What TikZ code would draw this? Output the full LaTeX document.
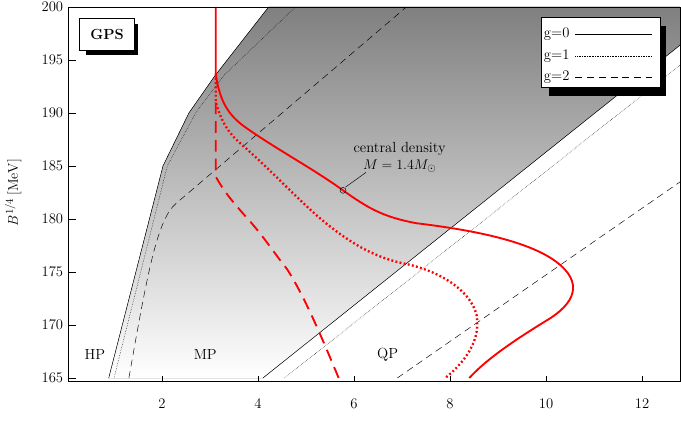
\documentclass[tikz,border=0pt]{standalone}
\usetikzlibrary{positioning,calc}
\definecolor{shade}{gray}{0.85}
\tikzset{
  redline/.style={red,line width=1.6pt},
  thinline/.style={black,line width=0.4pt},
  gsolid/.style={solid},
  gdot/.style={densely dotted},
  gdash/.style={dash pattern=on 6pt off 4pt},
  boxed/.style={draw=black,fill=white,thin,inner sep=4pt},
  shadow/.style={fill=black}
}
\begin{document}
\begin{tikzpicture}[x=1.44cm,y=0.318cm,font=\fontsize{12.5}{15}\selectfont]
\useasboundingbox (-1.375,159.8) rectangle (12.81,200.66);
%shaded region
\fill[shade] (0.89,165) -- (2.02,185) -- (2.56,190) -- (3.1,193.5) -- (4.22,200)
  -- (12.79,200) -- (12.79,196.4) -- (4.1,165) -- cycle;
%left boundaries
\draw[thinline] (0.89,165) -- (2.02,185) -- (2.56,190) -- (3.1,193.5) -- (4.22,200);
\draw[thinline,gdot] (1.0,165) -- (2.11,185) -- (2.7,190) -- (3.3,193.6) -- (4.78,200);
\draw[thinline,gdash] (1.31,165) .. controls (1.7,175) and (1.9,180) .. (2.3,181.5) -- (7.09,200);
%right boundaries
\draw[thinline] (4.1,165) -- (12.79,196.4);
\draw[thinline,gdot] (4.55,165) -- (12.79,194.5);
\draw[thinline,gdash] (6.9,165) -- (12.79,183.5);
%red curves
\draw[redline] (3.12,200) -- (3.12,193.7)
  .. controls (3.2,191) and (3.4,189.8) .. (3.69,188.8)
  .. controls (4.3,186.8) and (5.2,184.6) .. (5.77,182.7)
  .. controls (6.3,181) and (6.6,180.2) .. (7.3,179.6)
  .. controls (8.4,179) and (9.6,178) .. (10.2,176)
  .. controls (10.8,174) and (10.6,172) .. (10.0,170.4)
  .. controls (9.5,169) and (8.8,167) .. (8.4,165);
\draw[redline,dotted,line width=2pt] (3.12,193.7) -- (3.12,191)
  .. controls (3.25,189) and (3.4,188) .. (3.69,186.9)
  .. controls (4.3,184.5) and (5,181) .. (5.5,179.3)
  .. controls (6,177.5) and (6.5,176.3) .. (7.04,175.8)
  .. controls (7.7,175.2) and (8.4,173.5) .. (8.55,171)
  .. controls (8.65,168.5) and (8.3,166.5) .. (7.9,165);
\draw[redline,dash pattern=on 10pt off 6pt] (3.12,191) -- (3.12,184)
  .. controls (3.3,182.5) and (3.5,181.5) .. (3.69,180.5)
  .. controls (4.1,178.5) and (4.3,177) .. (4.6,175.3)
  .. controls (5,172.5) and (5.4,168) .. (5.68,165);
%frame and ticks
\draw[thinline] (0.05,164.7) rectangle (12.79,200);
\foreach \x in {2,4,...,12}
  \draw[thinline] (\x,164.7) -- (\x,165.2) node[below=0.55cm,anchor=north] {\x};
\foreach \y in {165,170,...,200}
  \draw[thinline] (0.05,\y) -- (0.2,\y) node[anchor=east,xshift=-0.25cm] {\y};
%labels
\node at (6.05,158.3) (xlabel) {$\epsilon/\epsilon_0$};
\node[rotate=90] at (-1.1,182.5) (ylabel) {$B^{1/4}\,[\mathrm{MeV}]$};
\node at (0.6,167.2) (hp) {HP};
\node at (2.9,167.2) (mp) {MP};
\node at (6.7,167.2) (qp) {QP};
\node[align=center,inner sep=1pt] at (6.95,185.8) (cd) {central density\\$M=1.4M_\odot$};
\coordinate (star) at (5.77,182.7);
\coordinate (tip) at (6.25,184.4);
\draw[thinline] (star) circle (2.5pt);
\draw[thinline] ($(star)+(0.05,0.3)$) -- (tip);
%GPS box
\fill[shadow] (0.42,195.5) rectangle (1.5,198.4);
\node[boxed,minimum width=1.15*1.44cm,minimum height=3*0.318cm,font=\fontsize{12.5}{15}\selectfont\bfseries] at (0.855,197.4) (gps) {GPS};
%legend
\fill[shadow] (10.05,191.6) rectangle (12.5,198.2);
\node[boxed,minimum width=2.49*1.44cm,minimum height=6.6*0.318cm] at (11.135,195.7) (legend) {};
\foreach \g/\sty [count=\i] in {0/gsolid,1/gdot,2/gdash}{
  \node[anchor=west,inner sep=0pt] at (9.95,199.4-2*\i) (g\i) {g=\g};
  \draw[thinline,\sty] (g\i.east) ++(0.12,0) -- (12.2,199.4-2*\i);
}
\end{tikzpicture}
\end{document}
